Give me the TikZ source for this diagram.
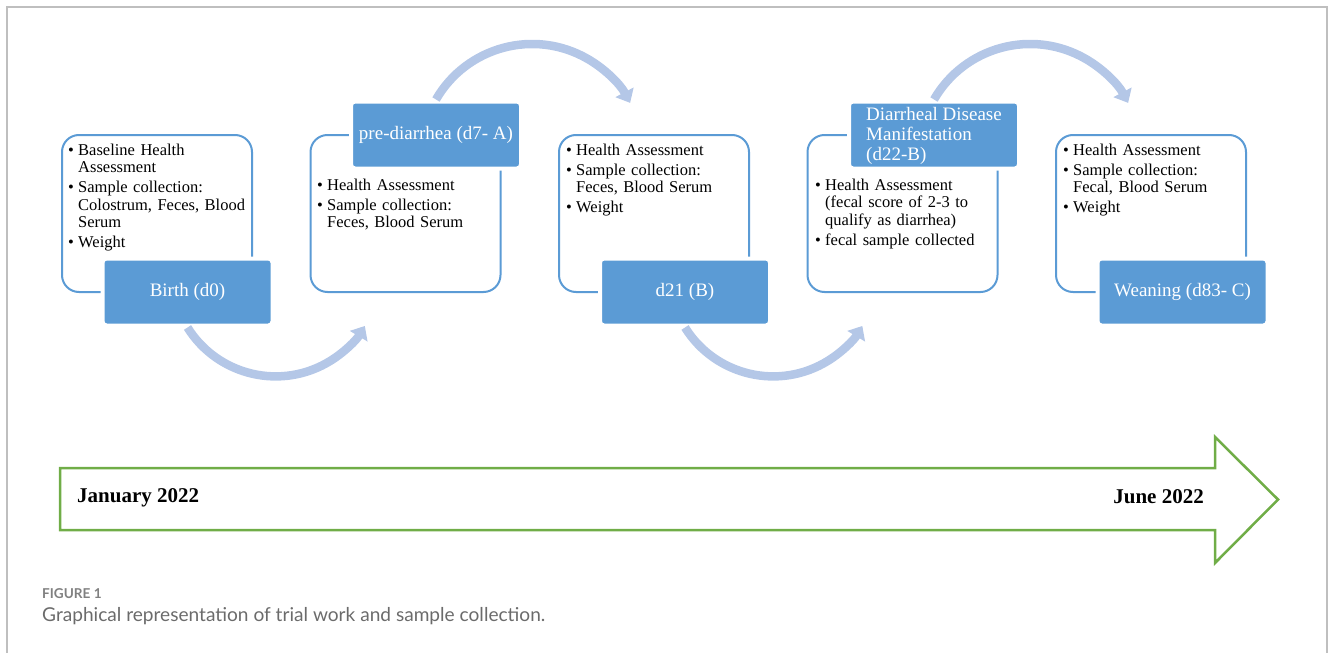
\documentclass[tikz,border=0pt]{standalone}
\usepackage{fontspec}
\setmainfont{Liberation Serif}
\newfontfamily\capfont{Lato}
\usetikzlibrary{arrows.meta}

\definecolor{stageblue}{HTML}{5B9BD5}
\definecolor{arcblue}{HTML}{B4C7E7}
\definecolor{timegreen}{HTML}{70AD47}
\definecolor{framegray}{HTML}{BFBFBF}
\definecolor{capgray}{HTML}{6B6B6B}

\newcommand{\bul}[1]{\hangindent=10pt\hangafter=1\noindent\makebox[10pt][l]{\textbullet}#1\par}

\tikzset{
  infobox/.style={draw=stageblue, line width=2pt, fill=white, rounded corners=17pt,
    minimum width=190pt, minimum height=157pt},
  stagebox/.style={fill=stageblue, draw=white, line width=4pt, rounded corners=4pt,
    minimum width=170pt, minimum height=67pt, inner sep=2pt, text=white,
    font=\fontsize{19}{20}\selectfont},
  itemlist/.style={anchor=base west, inner sep=0pt, text width=185pt,
    font=\fontsize{16.5}{17.5}\selectfont,
    execute at begin node=\setlength{\parskip}{2.5pt}},
  flow/.style={arcblue, line width=8.5pt, -{Triangle[length=12pt,width=20pt]}},
  datelabel/.style={inner sep=0pt, font=\fontsize{21}{21}\selectfont\bfseries},
}

\begin{document}
\begin{tikzpicture}[x=1pt, y=1pt]
  \useasboundingbox (0,0) rectangle (1331,-653);
  \draw[framegray, line width=1.2pt] (7,-653) -- (7,-7) -- (1327,-7) -- (1327,-653);

  % the five stages
  \node[infobox] (info1) at (157,-213.5) {};
  \node[infobox] (info2) at (405.5,-213.5) {};
  \node[infobox] (info3) at (654,-213.5) {};
  \node[infobox] (info4) at (902.5,-213.5) {};
  \node[infobox] (info5) at (1151,-213.5) {};

  \node[stagebox] (birth) at (187.5,-292) {Birth (d0)};
  \node[stagebox] (pre) at (436,-135) {pre-diarrhea (d7- A)};
  \node[stagebox] (dtwo) at (685,-292) {d21 (B)};
  \node[stagebox, align=left, text depth=2pt] (manif) at (934,-135) {Diarrheal Disease\\Manifestation\\(d22-B)};
  \node[stagebox] (wean) at (1182.5,-292) {Weaning (d83- C)};

  \node[itemlist] (list1) at (68,-155) {\bul{Baseline Health\newline Assessment}
    \bul{Sample collection:\newline Colostrum, Feces, Blood\newline Serum}
    \bul{Weight}};
  \node[itemlist] (list2) at (317,-190) {\bul{Health Assessment}
    \bul{Sample collection:\newline Feces, Blood Serum}};
  \node[itemlist] (list3) at (566,-155) {\bul{Health Assessment}
    \bul{Sample collection:\newline Feces, Blood Serum}
    \bul{Weight}};
  \node[itemlist] (list4) at (815,-190) {\bul{Health Assessment\newline (fecal score of 2-3 to\newline qualify as diarrhea)}
    \bul{fecal sample collected}};
  \node[itemlist] (list5) at (1063,-155) {\bul{Health Assessment}
    \bul{Sample collection:\newline Fecal, Blood Serum}
    \bul{Weight}};

  % curved arrows between stages
  \draw[flow] (birth.south) arc[start angle=212, end angle=329, radius=104];
  \draw[flow] (pre.north) arc[start angle=150, end angle=28, radius=111];
  \draw[flow] (dtwo.south) arc[start angle=212, end angle=329, radius=104];
  \draw[flow] (manif.north) arc[start angle=150, end angle=28, radius=111];

  % timeline
  \draw[timegreen, line width=2.5pt] (60,-468) -- (1215,-468) -- (1215,-437) -- (1278,-499.5)
    -- (1215,-563) -- (1215,-530) -- (60,-530) -- cycle;
  \node[datelabel, anchor=base west] (jan) at (77,-502) {January 2022};
  \node[datelabel, anchor=base east] (jun) at (1204,-503) {June 2022};

  % caption
  \node[anchor=base west, inner sep=0pt, text=gray, font=\capfont\fontsize{13.6}{13.6}\selectfont\bfseries] (fig) at (42,-598) {FIGURE 1};
  \node[anchor=base west, inner sep=0pt, text=capgray, font=\capfont\fontsize{19.1}{19.1}\selectfont] (cap) at (42,-621) {Graphical representation of trial work and sample collection.};
\end{tikzpicture}
\end{document}
